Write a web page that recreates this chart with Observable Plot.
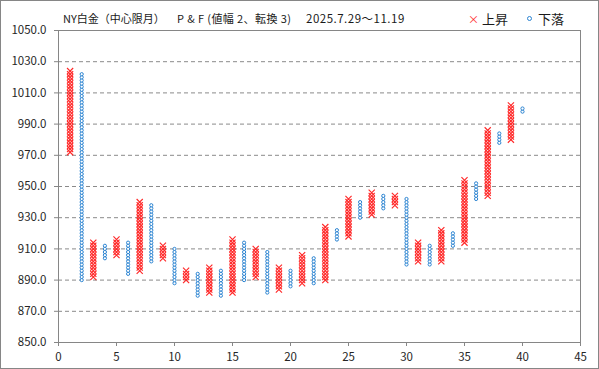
<!DOCTYPE html>
<html>
<head>
<meta charset="utf-8">
<script src="https://cdn.jsdelivr.net/npm/d3@7"></script>
<script src="https://cdn.jsdelivr.net/npm/@observablehq/plot@0.6"></script>
<style>
  html, body { margin: 0; padding: 0; background: #fff; }
  #wrap { position: relative; width: 599px; height: 369px; overflow: hidden; font-family: "Noto Sans CJK JP", "Noto Sans", sans-serif; }
  #border { position: absolute; left: 0; top: 0; width: 597px; height: 367px; border: 1px solid #868686; pointer-events: none; }
  .ttl { position: absolute; top: 10px; font-size: 11px; color: #1a1a1a; white-space: pre; }
  .leg { position: absolute; top: 9px; font-size: 13px; color: #1a1a1a; white-space: pre; line-height: 20px; }
  svg { position: absolute; left: 0; top: 0; }
</style>
</head>
<body>
<div id="wrap">
  <div class="ttl" style="left:63px;">NY白金（中心限月）</div>
  <div class="ttl" style="left:177px;letter-spacing:0.4px;">P &amp; F (値幅 2、転換 3)</div>
  <div class="ttl" style="left:306px;font-size:11.5px;letter-spacing:0.5px;">2025.7.29～11.19</div>
  <div class="leg" style="left:468px;"><span style="color:#ff2a2a;font-size:11px;">×</span> 上昇</div>
  <div class="leg" style="left:527px;"><span style="display:inline-block;width:3px;height:3px;border:1px solid #2b84d2;border-radius:50%;vertical-align:middle;margin-right:3px;margin-bottom:3px;"></span> 下落</div>
  <div id="border"></div>
</div>
<script>
// Point & Figure columns (box size 2, reversal 3)
const colIndex = [1,2,3,4,5,6,7,8,9,10,11,12,13,14,15,16,17,18,19,20,21,22,23,24,25,26,27,28,29,30,31,32,33,34,35,36,37,38,39,40];
const colType  = ["X","O","X","O","X","O","X","O","X","O","X","O","X","O","X","O","X","O","X","O","X","O","X","O","X","O","X","O","X","O","X","O","X","O","X","O","X","O","X","O"];
const colHigh  = [1024,1022,914,912,916,914,940,938,912,910,896,894,898,896,916,914,910,908,898,896,906,904,924,922,942,940,946,944,944,942,914,912,922,920,954,952,986,984,1002,1000];
const colLow   = [972,890,892,904,906,894,896,902,904,888,890,880,882,880,882,890,892,882,884,886,888,888,890,916,918,930,932,936,938,900,902,900,902,912,914,942,944,978,980,998];
const boxSize = 2;
const yTicks = [850,870,890,910,930,950,970,990,1010,1030,1050];
const gridTicks = [870,890,910,930,950,970,990,1010,1030];
const xTicks = [0,5,10,15,20,25,30,35,40,45];

const xBoxes = [], oBoxes = [];
colIndex.forEach((c, i) => {
  for (let v = colLow[i]; v <= colHigh[i]; v += boxSize) {
    (colType[i] === "X" ? xBoxes : oBoxes).push({col: c, price: v});
  }
});

const chart = Plot.plot({
  width: 599,
  height: 369,
  marginLeft: 58,
  marginRight: 19,
  marginTop: 30,
  marginBottom: 27,
  x: {domain: [0, 45]},
  y: {domain: [850, 1050]},
  style: {fontFamily: '"Noto Sans CJK JP", "Noto Sans", sans-serif', fontSize: "11.5px", color: "#262626", background: "transparent"},
  marks: [
    Plot.ruleY(gridTicks, {stroke: "#8a8a8a", strokeDasharray: "4,3", strokeWidth: 1}),
    Plot.frame({stroke: "#868686"}),
    Plot.axisY({ticks: yTicks, tickFormat: d3.format(".1f"), tickSize: 4, tickPadding: 8, stroke: "#868686", label: null}),
    Plot.axisX({ticks: xTicks, tickSize: 4, tickPadding: 6, stroke: "#868686", label: null}),
    Plot.dot(xBoxes, {x: "col", y: "price", symbol: "times", r: 2.9, stroke: "#ff2828", strokeWidth: 1.15}),
    Plot.dot(oBoxes, {x: "col", y: "price", r: 1.6, stroke: "#2b84d2", fill: "white", strokeWidth: 1})
  ]
});
document.getElementById("wrap").insertBefore(chart, document.getElementById("border"));
</script>
</body>
</html>
